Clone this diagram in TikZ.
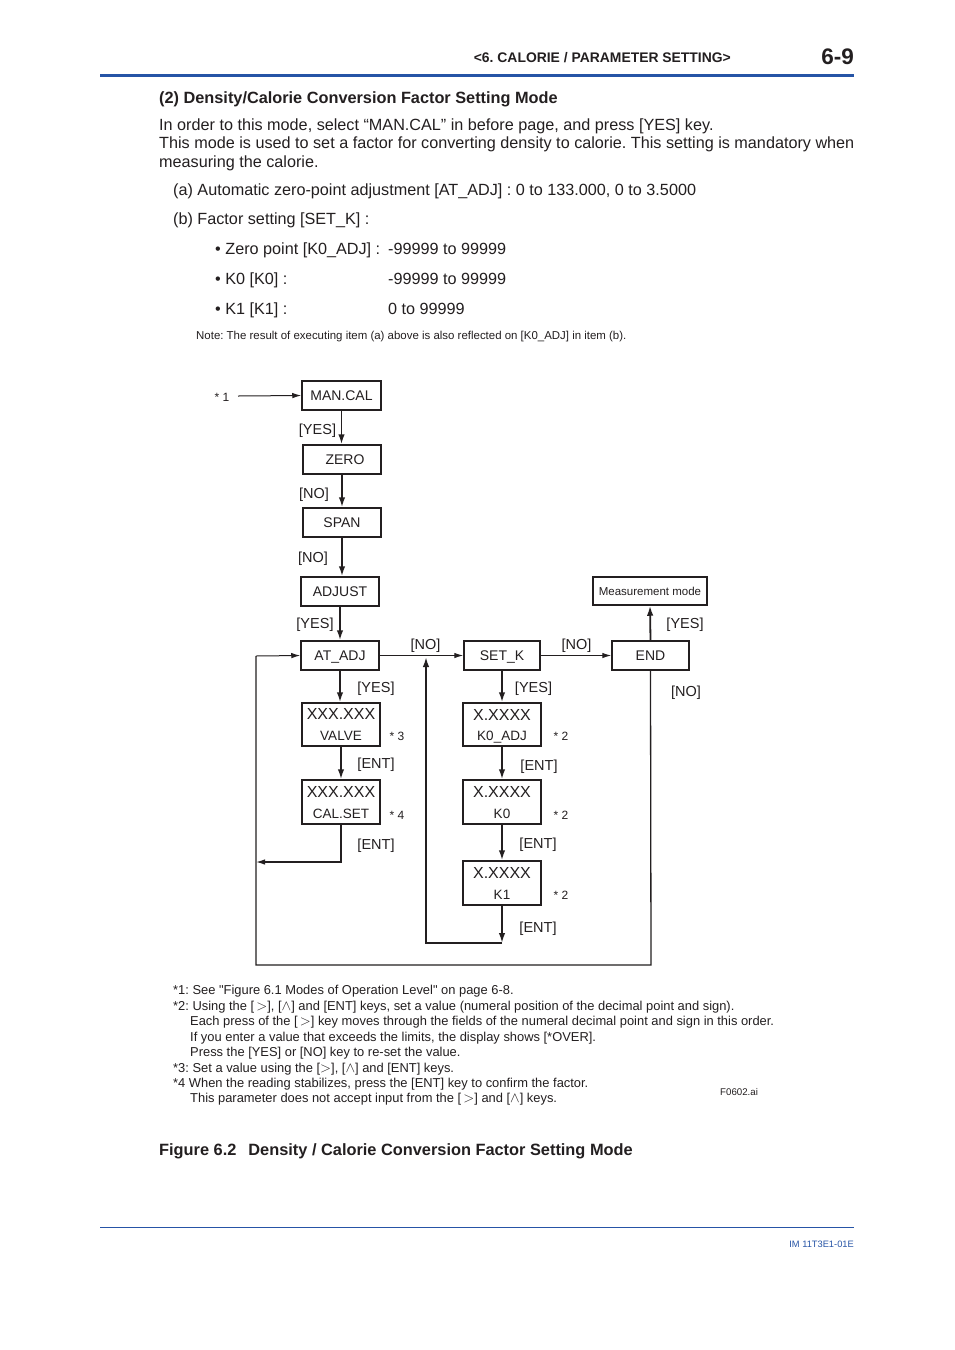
\documentclass[tikz,border=0pt]{standalone}
\usepackage{fontspec}
\setmainfont{Liberation Sans}
\newfontfamily\rawsans{Liberation Sans}
\usetikzlibrary{arrows.meta}
\definecolor{hdrblue}{RGB}{38,84,166}
\definecolor{txt}{RGB}{35,31,32}
\newcommand\myfs[1]{\fontsize{#1}{#1}\selectfont}
\newcommand\keygt{\smash{\myfs{14.5}$>$}}
\newcommand\keyup{\smash{\myfs{14.5}$\wedge$}}
\newcommand\sq{{\rawsans "}}
\frenchspacing
\begin{document}
\begin{tikzpicture}[x=1pt,y=-1pt,
  every node/.style={text=txt, inner sep=0pt},
  body/.style={anchor=base west, font=\myfs{16.2}},
  foot/.style={anchor=base west, font=\myfs{12.9}, text height=9.3pt, text depth=2.5pt},
  box/.style={draw=txt, line width=1.5pt, font=\myfs{14}, text height=10pt, text depth=0pt},
  emptybox/.style={draw=txt, line width=1.5pt, minimum width=78pt},
  big/.style={font=\myfs{16}, text height=11.5pt, text depth=0pt},
  small/.style={font=\myfs{13.5}, text height=9.7pt, text depth=0pt},
  lbl/.style={font=\myfs{14.5}, text height=10.4pt, text depth=0pt},
  star/.style={font=\myfs{12}},
  arr/.style={draw=txt, line width=1.8pt, -{Latex[length=10pt,width=6.5pt]}},
  tarr/.style={draw=txt, line width=1pt, -{Latex[length=9pt,width=5.5pt]}},
  loopline/.style={draw=txt, line width=1.3pt}
]
\fill[white] (0,0) rectangle (954,1350);
\useasboundingbox (0,0) rectangle (954,1350);

% header
\draw[hdrblue, line width=3pt] (100,75) -- (854,75);
\node[anchor=base east, font=\bfseries\myfs{13.9}] (hdr) at (731,62) {<6. CALORIE / PARAMETER SETTING>};
\node[anchor=base east, font=\bfseries\myfs{22.5}] (pg) at (854,64.5) {6-9};

% body text
\node[body, font=\bfseries\myfs{16.3}] (t0) at (159,103) {(2) Density/Calorie Conversion Factor Setting Mode};
\node[body] (t1) at (159,130) {In order to this mode, select “MAN.CAL” in before page, and press [YES] key.};
\node[body] (t2) at (159,148.5) {This mode is used to set a factor for converting density to calorie. This setting is mandatory when};
\node[body] (t3) at (159,167) {measuring the calorie.};
\node[body] (t4) at (173,195) {(a) Automatic zero-point adjustment [AT\_ADJ] : 0 to 133.000, 0 to 3.5000};
\node[body] (t5) at (173,224) {(b) Factor setting [SET\_K] :};
\node[body] (t6) at (215,254) {• Zero point [K0\_ADJ] :};
\node[body] (t6b) at (388,254) {-99999 to 99999};
\node[body] (t7) at (215,284) {• K0 [K0] :};
\node[body] (t7b) at (388,284) {-99999 to 99999};
\node[body] (t8) at (215,314) {• K1 [K1] :};
\node[body] (t8b) at (388,314) {0 to 99999};
\node[anchor=base west, font=\myfs{11.45}] (note) at (196,339) {Note: The result of executing item (a) above is also reflected on [K0\_ADJ] in item (b).};

% diagram boxes
\node[box, minimum width=79pt, minimum height=29pt] (mancal) at (341.5,395.5) {MAN.CAL};
\node[box, minimum width=78pt, minimum height=29pt] (zero) at (342,459.5) {\hspace{6pt}ZERO};
\node[box, minimum width=78pt, minimum height=29pt] (span) at (342,522.5) {SPAN};
\node[box, minimum width=78pt, minimum height=29pt] (adjust) at (340,591.5) {ADJUST};
\node[box, minimum width=78pt, minimum height=29pt] (atadj) at (340,655.5) {AT\_ADJ};
\node[box, minimum width=76pt, minimum height=29pt] (setk) at (502,655.5) {SET\_K};
\node[box, minimum width=77pt, minimum height=29pt] (endb) at (650.5,655.5) {END};
\node[box, minimum width=114pt, minimum height=28pt, font=\myfs{11.5}, text height=8.3pt] (meas) at (650,591) {Measurement mode};

\node[emptybox, minimum height=43pt] (valve) at (341,724.5) {};
\node[emptybox, minimum height=44pt] (calset) at (341,802) {};
\node[emptybox, minimum height=43pt] (k0adj) at (502,724.5) {};
\node[emptybox, minimum height=44pt] (k0) at (502,802) {};
\node[emptybox, minimum height=44pt] (k1) at (502,883) {};

\node[big] (valveA) at ([yshift=10.5pt]valve.center) {XXX.XXX};
\node[small] (valveB) at ([yshift=-11.5pt]valve.center) {VALVE};
\node[big] (calsetA) at ([yshift=10.5pt]calset.center) {XXX.XXX};
\node[small] (calsetB) at ([yshift=-11.5pt]calset.center) {CAL.SET};
\node[big] (k0adjA) at ([yshift=10pt]k0adj.center) {X.XXXX};
\node[small] (k0adjB) at ([yshift=-11.5pt]k0adj.center) {K0\_ADJ};
\node[big] (k0A) at ([yshift=10pt]k0.center) {X.XXXX};
\node[small] (k0B) at ([yshift=-12pt]k0.center) {K0};
\node[big] (k1A) at ([yshift=10.5pt]k1.center) {X.XXXX};
\node[small] (k1B) at ([yshift=-12pt]k1.center) {K1};

% star labels
\node[star] (s1) at (222,397) {* 1};
\node[star] (s3) at (397,736) {* 3};
\node[star] (s4) at (397,815) {* 4};
\node[star] (s2a) at (561,736) {* 2};
\node[star] (s2b) at (561,815) {* 2};
\node[star] (s2c) at (561,895) {* 2};

% connector labels
\node[lbl] (l1) at (317.5,429) {[YES]};
\node[lbl] (l2) at (314,493) {[NO]};
\node[lbl] (l3) at (313,557) {[NO]};
\node[lbl] (l4) at (315,623) {[YES]};
\node[lbl] (l5) at (425.5,644) {[NO]};
\node[lbl] (l6) at (576.5,644) {[NO]};
\node[lbl] (l7) at (685,623) {[YES]};
\node[lbl] (l8) at (686,691) {[NO]};
\node[lbl] (l9) at (376,687) {[YES]};
\node[lbl] (l10) at (376,763) {[ENT]};
\node[lbl] (l11) at (376,844) {[ENT]};
\node[lbl] (l12) at (533.5,687) {[YES]};
\node[lbl] (l13) at (539,765) {[ENT]};
\node[lbl] (l14) at (538,843) {[ENT]};
\node[lbl] (l15) at (538,927) {[ENT]};

% connectors
\coordinate (startpt) at (238,396);
\draw[tarr] (startpt) -- (mancal.west);
\draw[arr] (mancal.south) -- (mancal.south |- zero.north);
\draw[arr] (zero.south) -- (zero.south |- span.north);
\draw[arr] (span.south) -- (span.south |- adjust.north);
\draw[arr] (adjust.south) -- (atadj.north);
\draw[tarr] (atadj.east) -- (setk.west);
\draw[tarr] (setk.east) -- (endb.west);
\draw[arr] (endb.north) -- (meas.south);
\draw[arr] (atadj.south) -- (atadj.south |- valve.north);
\draw[arr] (valve.south) -- (calset.north);
\draw[arr] (setk.south) -- (k0adj.north);
\draw[arr] (k0adj.south) -- (k0.north);
\draw[arr] (k0.south) -- (k1.north);

% loops
\coordinate (bl) at (256,965);
\coordinate (br) at (651,965);
\coordinate (tl) at (256,656);
\draw[loopline] (endb.south) -- (br) -- (bl) -- (tl);
\draw[tarr] (tl) -- (atadj.west);
\coordinate (calret) at (256,862);
\draw[draw=txt, line width=1.3pt, -{Latex[length=9pt,width=5.5pt]}] (calset.south) |- (calret);
\coordinate (k1end) at (502,943);
\coordinate (merge) at (426,657);
\draw[arr] (k1.south) -- (k1end);
\draw[arr] (k1end) -| (merge);

% footnotes
\node[foot] (f1) at (173,994.5) {*1: See \sq Figure 6.1 Modes of Operation Level\sq\ on page 6-8.};
\node[foot] (f2) at (173,1010) {*2: Using the [\,\keygt], [\keyup] and [ENT] keys, set a value (numeral position of the decimal point and sign).};
\node[foot] (f3) at (190,1025.5) {Each press of the [\,\keygt] key moves through the fields of the numeral decimal point and sign in this order.};
\node[foot] (f4) at (190,1041) {If you enter a value that exceeds the limits, the display shows [*OVER].};
\node[foot] (f5) at (190,1056.5) {Press the [YES] or [NO] key to re-set the value.};
\node[foot] (f6) at (173,1072) {*3: Set a value using the [\keygt], [\keyup] and [ENT] keys.};
\node[foot] (f7) at (173,1087) {*4 When the reading stabilizes, press the [ENT] key to confirm the factor.};
\node[foot] (f8) at (190,1102.5) {This parameter does not accept input from the [\,\keygt] and [\keyup] keys.};
\node[anchor=base west, font=\myfs{9.7}] (fname) at (720,1095) {F0602.ai};

% caption
\node[anchor=base west, font=\bfseries\myfs{16.35}] (cap) at (159,1155) {Figure 6.2\hspace{12pt}Density / Calorie Conversion Factor Setting Mode};

% footer
\draw[hdrblue, line width=0.8pt] (100,1227) -- (854,1227);
\node[anchor=base east, text=hdrblue, font=\myfs{9.3}] (docid) at (854,1247.5) {IM 11T3E1-01E};
\end{tikzpicture}
\end{document}
